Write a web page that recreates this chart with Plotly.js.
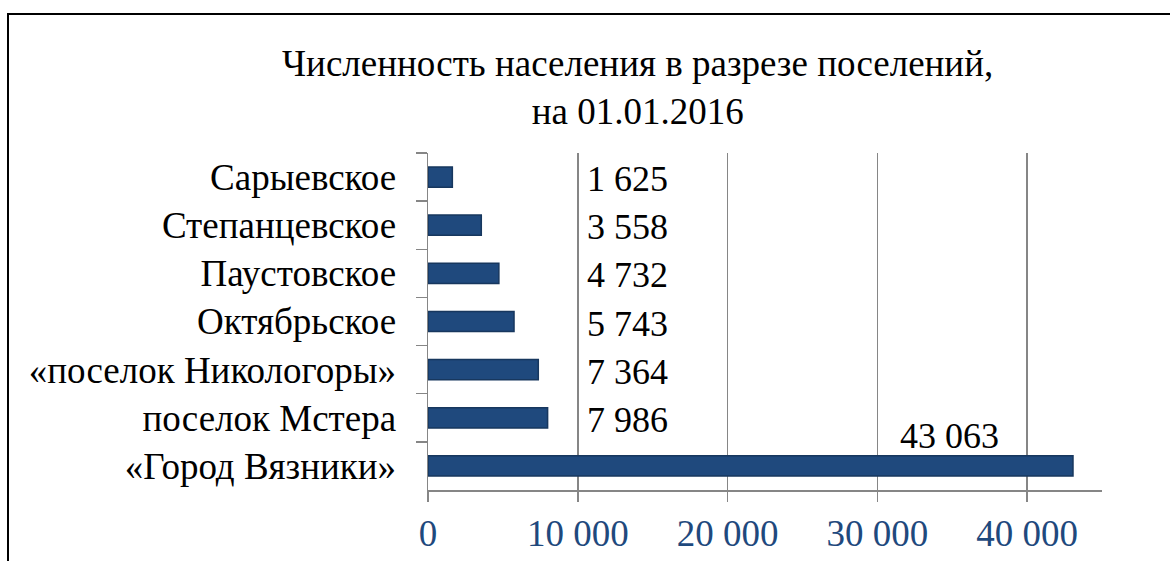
<!DOCTYPE html>
<html>
<head>
<meta charset="utf-8">
<script src="https://cdn.plot.ly/plotly-3.0.1.min.js"></script>
<style>
  html, body { margin: 0; padding: 0; background: #ffffff; overflow: hidden; }
  #chart { width: 1170px; height: 561px; }
</style>
</head>
<body>
<div id="chart"></div>
<script>
// Settlements (top to bottom as shown)
const categories = [
  "Сарыевское",
  "Степанцевское",
  "Паустовское",
  "Октябрьское",
  "«поселок Никологоры»",
  "поселок Мстера",
  "«Город Вязники»"
];
// Population on 01.01.2016
const population = [1625, 3558, 4732, 5743, 7364, 7986, 43063];
// X-axis tick values
const xTickValues = [0, 10000, 20000, 30000, 40000];
const xTickLabels = ["0", "10 000", "20 000", "30 000", "40 000"];

const titleText = "Численность населения в разрезе поселений,<br>на 01.01.2016";

const FONT = "Liberation Serif, Times New Roman, serif";
const BAR = "#1F497D";
const AXIS_GRAY = "#868686";

function fmt(v) {
  return String(v).replace(/\B(?=(\d{3})+(?!\d))/g, " ");
}

const annotations = population.map(function (v, i) {
  const big = v > 20000;
  return {
    x: big ? 34800 : 13300,
    y: categories[i],
    xref: "x",
    yref: "y",
    text: fmt(v),
    showarrow: false,
    xanchor: "center",
    yanchor: "middle",
    yshift: big ? 30 : -2,
    font: { family: FONT, size: 36, color: "#000000" }
  };
});

const trace = {
  type: "bar",
  orientation: "h",
  x: population,
  y: categories,
  width: 0.42,
  marker: { color: BAR, line: { color: "#17375E", width: 1.5 } },
  hoverinfo: "x+y"
};

const layout = {
  width: 1170,
  height: 561,
  margin: { l: 428, r: 68, t: 153, b: 71, pad: 0 },
  paper_bgcolor: "#ffffff",
  plot_bgcolor: "#ffffff",
  separators: ", ",
  showlegend: false,
  font: { family: FONT, size: 37, color: "#000000" },
  title: {
    text: titleText,
    font: { family: FONT, size: 37, color: "#000000" },
    x: 0.545,
    xref: "container",
    xanchor: "center",
    y: 1 - 76 / 561,
    yref: "container",
    yanchor: "top"
  },
  xaxis: {
    range: [0, 45000],
    tickvals: xTickValues,
    ticktext: xTickLabels,
    showgrid: true,
    gridcolor: AXIS_GRAY,
    gridwidth: 1.5,
    zeroline: false,
    showline: true,
    linecolor: AXIS_GRAY,
    linewidth: 1.5,
    ticks: "outside",
    ticklen: 10,
    tickwidth: 1.5,
    tickcolor: AXIS_GRAY,
    tickfont: { family: FONT, size: 37, color: "#1F497D" },
    fixedrange: true
  },
  yaxis: {
    type: "category",
    categoryorder: "array",
    categoryarray: categories,
    range: [6.5, -0.5],
    autorange: false,
    showgrid: false,
    zeroline: false,
    showline: true,
    linecolor: AXIS_GRAY,
    linewidth: 1.5,
    ticks: "outside",
    tickson: "boundaries",
    ticklen: 11,
    tickwidth: 1.5,
    tickcolor: AXIS_GRAY,
    ticklabelstandoff: 23,
    tickfont: { family: FONT, size: 37, color: "#000000" },
    fixedrange: true
  },
  annotations: annotations,
  shapes: [{
    type: "rect",
    xref: "paper",
    yref: "paper",
    x0: (8 - 428) / 674,
    x1: 1.3,
    y0: -0.5,
    y1: (490 - 14) / 337,
    line: { color: "#000000", width: 2 },
    fillcolor: "rgba(0,0,0,0)",
    layer: "above"
  }]
};

Plotly.newPlot("chart", [trace], layout, { displayModeBar: false, staticPlot: true });
</script>
</body>
</html>
